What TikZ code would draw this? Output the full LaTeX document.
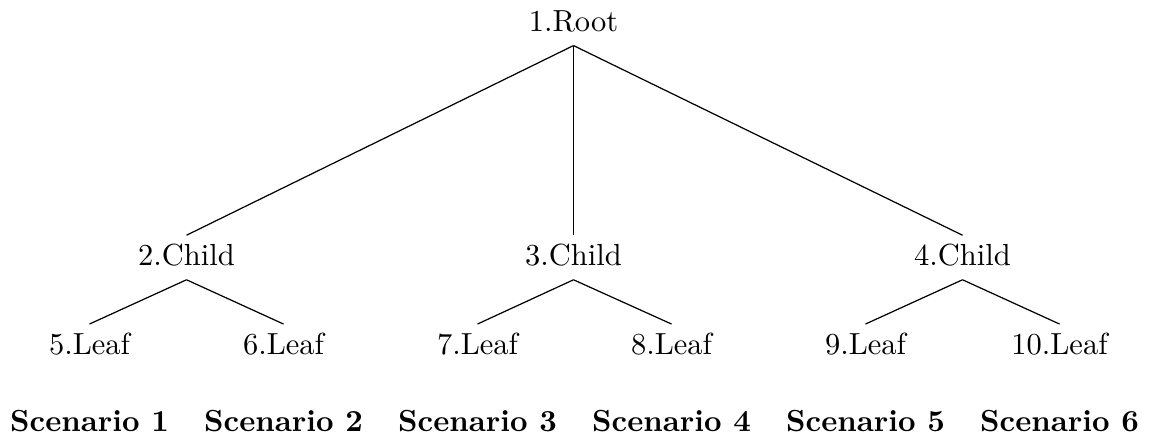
\documentclass[tikz,border=0pt]{standalone}
\begin{document}
\begin{tikzpicture}[x={(0.3279pt,0)}, y={(0,-0.3279pt)},
  tn/.style={text height=1.5ex, text depth=.25ex, anchor=base, inner sep=3.33pt},
  sc/.style={anchor=base, font=\bfseries, inner sep=0pt},
  link/.style={draw=black, line width=0.4pt}]
\useasboundingbox (0,0) rectangle (1153,437);
\node[tn] (r) at (573.5,31.5) {1.Root};
\node[tn] (c2) at (186.5,265.7) {2.Child};
\node[tn] (c3) at (573.5,265.7) {3.Child};
\node[tn] (c4) at (962.5,265.7) {4.Child};
\node[tn] (l5) at (89.5,354.5) {5.Leaf};
\node[tn] (l6) at (283.5,354.5) {6.Leaf};
\node[tn] (l7) at (477.5,354.5) {7.Leaf};
\node[tn] (l8) at (671.5,354.5) {8.Leaf};
\node[tn] (l9) at (865.5,354.5) {9.Leaf};
\node[tn] (l10) at (1059.5,354.5) {10.Leaf};
\node[sc] (s1) at (89.5,431.5) {Scenario 1};
\node[sc] (s2) at (283.5,431.5) {Scenario 2};
\node[sc] (s3) at (477.5,431.5) {Scenario 3};
\node[sc] (s4) at (671.5,431.5) {Scenario 4};
\node[sc] (s5) at (865.5,431.5) {Scenario 5};
\node[sc] (s6) at (1059.5,431.5) {Scenario 6};
\draw[link] (r.south) -- (c2.north);
\draw[link] (r.south) -- (c3.north);
\draw[link] (r.south) -- (c4.north);
\draw[link] (c2.south) -- (l5.north);
\draw[link] (c2.south) -- (l6.north);
\draw[link] (c3.south) -- (l7.north);
\draw[link] (c3.south) -- (l8.north);
\draw[link] (c4.south) -- (l9.north);
\draw[link] (c4.south) -- (l10.north);
\end{tikzpicture}
\end{document}
